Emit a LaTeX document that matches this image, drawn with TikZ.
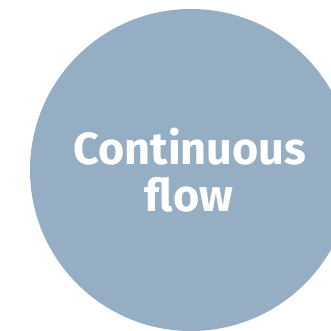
\documentclass[tikz,border=0pt]{standalone}
\usepackage{fontspec}
\setmainfont{Fira Sans}
\definecolor{circfill}{HTML}{95AEC3}
\begin{document}
\begin{tikzpicture}[x=1pt,y=1pt,
  lbl/.style={text=white,font=\fontsize{45}{47}\selectfont\bfseries,align=center,inner sep=0pt}]
\useasboundingbox (0,0) rectangle (331,331);
\clip (0,0) rectangle (331,331);
\fill[circfill] (191,161) circle (161);
\node[lbl,anchor=base] (t1) at (190,166) {Continuous};
\node[lbl,anchor=base] (t2) at (189,119) {flow};
\end{tikzpicture}
\end{document}
